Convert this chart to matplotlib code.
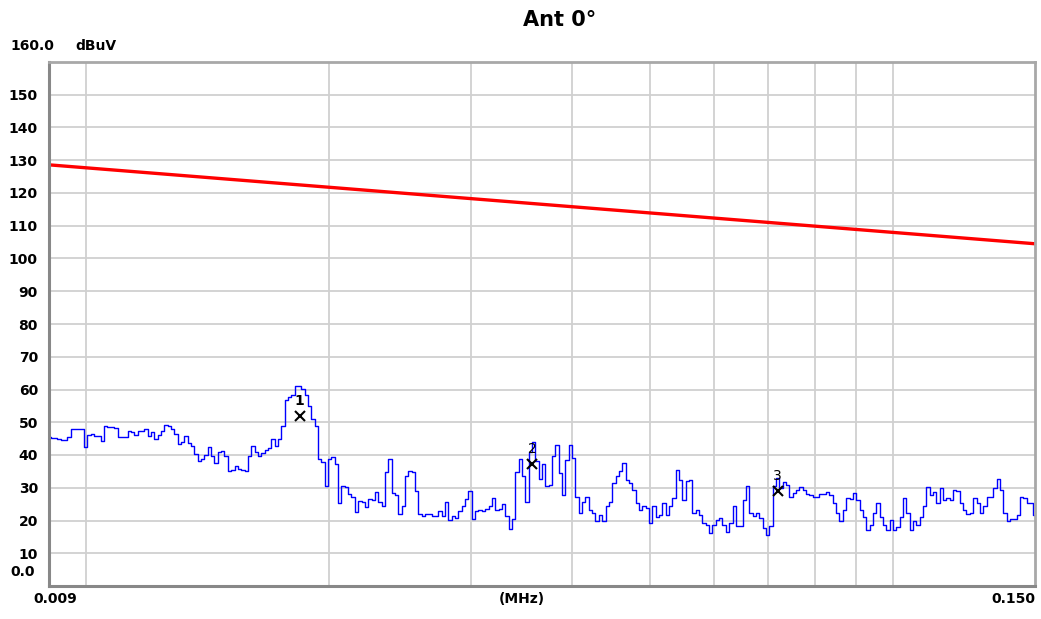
import numpy as np
import matplotlib
matplotlib.use("Agg")
import matplotlib.pyplot as plt

# scan levels (dBuV), log spaced sweep 0.009 .. 0.150 MHz
level_dbuv = [
    45.4, 45.1, 45.1, 44.9, 44.7, 44.7, 45.4, 48.0, 48.0, 48.0,
    48.0, 42.3, 46.1, 46.3, 45.7, 45.9, 44.4, 49.0, 48.5, 48.5,
    48.2, 45.6, 45.6, 45.6, 47.4, 46.9, 46.1, 47.4, 47.4, 47.8,
    45.9, 46.9, 44.9, 46.1, 47.4, 49.2, 48.8, 48.0, 46.5, 43.4,
    43.9, 45.7, 43.6, 42.9, 40.3, 38.3, 38.8, 40.0, 42.3, 39.8,
    37.6, 41.0, 41.3, 39.6, 35.2, 35.5, 36.5, 35.7, 35.4, 35.0,
    39.8, 42.7, 41.0, 39.8, 40.6, 41.6, 42.0, 44.9, 42.7, 44.9,
    49.0, 56.9, 57.7, 58.4, 61.2,
    61.0, 60.2, 58.2, 54.9, 51.0, 49.0, 38.8, 38.0, 30.6, 38.8,
    39.3, 37.2, 25.3, 30.6, 30.1, 28.1, 27.3, 22.7, 26.0, 25.7,
    24.0, 26.7, 26.3, 28.6, 25.5, 24.5, 34.7, 38.8, 28.4, 27.8,
    21.9, 24.5, 33.7, 35.2, 34.7, 29.1, 21.9, 21.4, 21.9, 21.9,
    21.4, 21.4, 23.0, 21.4, 25.5, 20.2, 21.4, 20.9, 23.0, 24.5,
    26.5, 29.1, 20.4, 23.0, 23.3, 23.0, 23.5, 24.5, 27.0, 23.3,
    23.5, 25.0, 21.4, 17.3, 20.4, 34.7, 38.8, 33.7, 25.5, 40.8,
    43.9, 38.3, 32.7, 37.2,
    30.6, 30.9, 39.6, 43.2, 34.5, 27.9, 38.6, 43.2, 39.1, 27.3,
    22.2, 25.8, 27.1, 23.3, 22.2, 19.7, 21.7, 19.7, 24.3, 25.8,
    31.4, 33.5, 35.0, 37.6, 32.4, 31.4, 29.4, 25.3, 23.3, 24.3,
    23.8, 19.2, 24.3, 21.2, 21.7, 25.3, 21.7, 24.3, 26.8, 35.5,
    32.4, 26.3, 32.2, 32.4, 22.2, 23.3, 21.7, 19.2, 18.7, 16.1,
    18.7, 20.2, 20.7, 18.7, 16.6, 19.2, 24.3, 18.2, 18.2, 26.3,
    30.6, 22.2, 21.4, 22.2, 20.7, 17.7, 15.6, 18.2, 30.4, 33.0,
    29.9, 31.9, 30.9, 27.3,
    28.4, 29.2, 30.2, 29.2, 28.2, 27.9, 27.3, 27.3, 28.2, 28.2,
    28.6, 27.9, 25.3, 22.2, 19.7, 23.3, 26.8, 26.5, 28.4, 26.3,
    23.3, 21.2, 17.1, 18.7, 22.2, 25.3, 21.2, 18.7, 17.1, 20.2,
    17.1, 18.0, 21.2, 26.8, 22.2, 17.1, 19.7, 18.7, 21.2, 24.3,
    30.2, 27.9, 28.6, 25.3, 29.9, 26.3, 26.8, 26.3, 29.4, 28.9,
    25.3, 23.3, 22.0, 22.2, 26.8, 25.3, 22.2, 24.3, 27.3, 27.3,
    29.9, 32.7, 29.4, 22.2, 19.7, 20.4, 20.4, 21.7, 27.3, 26.8,
    25.3, 25.3, 21.7,
]
f_start, f_stop = 0.009, 0.150
freq_mhz = np.geomspace(f_start, f_stop, len(level_dbuv))

limit_freq = [0.009, 0.150]
limit_dbuv = [128.6, 104.5]

marker_freq = [0.0184, 0.0357, 0.0720]
marker_dbuv = [51.9, 37.2, 29.0]
marker_names = ["1", "2", "3"]

yticks = list(range(10, 160, 10))
xgrid = [0.01, 0.02, 0.03, 0.04, 0.05, 0.06, 0.07, 0.08, 0.09, 0.1]

W, H = 1041, 619
fig = plt.figure(figsize=(W / 100, H / 100), dpi=100)
ax = fig.add_axes([49 / W, (H - 586) / H, 986 / W, 524 / H])

ax.set_xscale("log")
ax.set_xlim(f_start, f_stop)
ax.set_ylim(0, 160)

ax.set_yticks(yticks)
ax.set_yticklabels([str(v) for v in yticks], fontsize=10, fontweight="bold")
ax.set_xticks(xgrid)
ax.set_xticklabels([""] * len(xgrid))
ax.xaxis.set_minor_locator(matplotlib.ticker.NullLocator())
ax.tick_params(length=0, pad=8)
ax.grid(True, color="#d0d0d0", lw=1.3)
ax.set_axisbelow(True)

for s in ["top", "right"]:
    ax.spines[s].set_color("#a8a8a8")
    ax.spines[s].set_linewidth(2)
for s in ["left", "bottom"]:
    ax.spines[s].set_color("#888888")
    ax.spines[s].set_linewidth(2.2)

ax.plot(limit_freq, limit_dbuv, color="#ff0000", lw=2.4)
ax.plot(freq_mhz, level_dbuv, color="#0000ff", lw=1.0, drawstyle="steps-mid")

for f, v, n in zip(marker_freq, marker_dbuv, marker_names):
    ax.plot(f, v, marker="x", color="black", ms=7, mew=1.5)
    ax.text(f, v + 4.5, n, ha="center", va="center", fontsize=10,
            fontweight="bold" if n == "1" else "normal", color="black")

# labels outside the axes
fig.text(10 / W, 1 - 46 / H, "160.0", fontsize=10, fontweight="bold", va="center")
fig.text(75 / W, 1 - 46 / H, "dBuV", fontsize=10, fontweight="bold", va="center")
fig.text(10 / W, 1 - 572 / H, "0.0", fontsize=10, fontweight="bold", va="center")
fig.text(33 / W, 1 - 599 / H, "0.009", fontsize=10, fontweight="bold", va="center")
fig.text(1035 / W, 1 - 599 / H, "0.150", fontsize=10, fontweight="bold",
         va="center", ha="right")
fig.text(522 / W, 1 - 599 / H, "(MHz)", fontsize=10, fontweight="bold",
         va="center", ha="center")
fig.text(560 / W, 1 - 20 / H, "Ant 0°", fontsize=15, fontweight="bold",
         va="center", ha="center")

fig.savefig("out.png", dpi=100)
